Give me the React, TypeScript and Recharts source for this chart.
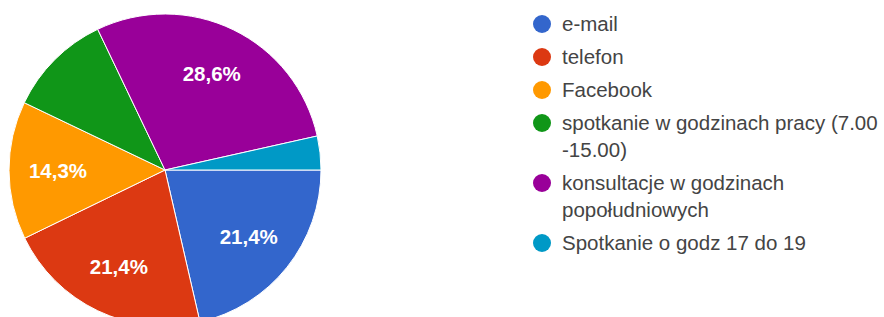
import React from "react";
import { PieChart, Pie, Cell, Legend } from "recharts";

const categories = [
  "e-mail",
  "telefon",
  "Facebook",
  "spotkanie w godzinach pracy (7.00 -15.00)",
  "konsultacje w godzinach popołudniowych",
  "Spotkanie o godz 17 do 19",
];
const shares = [21.4, 21.4, 14.3, 10.8, 28.6, 3.5];
const colors = ["#3366cc", "#dc3912", "#ff9900", "#109618", "#990099", "#0099c6"];

const data = categories.map((name, i) => ({ name, value: shares[i] }));

const RAD = Math.PI / 180;
const FONT = "Arial, 'Liberation Sans', sans-serif";

const renderLabel = (props: any) => {
  const { cx, cy, midAngle, percent } = props;
  if (percent < 0.12) return null;
  const r = 107;
  const x = cx + r * Math.cos(-midAngle * RAD);
  const y = cy + r * Math.sin(-midAngle * RAD);
  const txt = (percent * 100).toFixed(1).replace(".", ",") + "%";
  return (
    <text
      x={x}
      y={y}
      fill="#ffffff"
      fontSize={20.5}
      fontWeight="bold"
      fontFamily={FONT}
      textAnchor="middle"
      dominantBaseline="central"
    >
      {txt}
    </text>
  );
};

const renderLegend = () => (
  <div style={{ fontFamily: FONT, fontSize: 20.5, color: "#444", lineHeight: "27px" }}>
    {data.map((d, i) => (
      <div key={d.name} style={{ position: "relative", paddingLeft: 30, marginBottom: 6 }}>
        <span
          style={{
            position: "absolute",
            left: 1,
            top: 4.5,
            width: 18,
            height: 18,
            borderRadius: 9,
            background: colors[i],
          }}
        />
        <span>{d.name}</span>
      </div>
    ))}
  </div>
);

export default function App() {
  return (
    <div style={{ position: "absolute", left: 0, top: 0, width: 884, height: 317, background: "#fff" }}>
      <PieChart width={884} height={317} margin={{ top: 0, right: 0, bottom: 0, left: 0 }}>
        <Pie
          data={data}
          dataKey="value"
          nameKey="name"
          cx={165}
          cy={170}
          outerRadius={156}
          startAngle={0}
          endAngle={-360}
          stroke="#ffffff"
          strokeWidth={1}
          label={renderLabel}
          labelLine={false}
          isAnimationActive={false}
        >
          {data.map((d, i) => (
            <Cell key={d.name} fill={colors[i]} />
          ))}
        </Pie>
        <Legend
          content={renderLegend}
          wrapperStyle={{ position: "absolute", left: 532, top: 10, width: 352, bottom: "auto" }}
        />
      </PieChart>
    </div>
  );
}
